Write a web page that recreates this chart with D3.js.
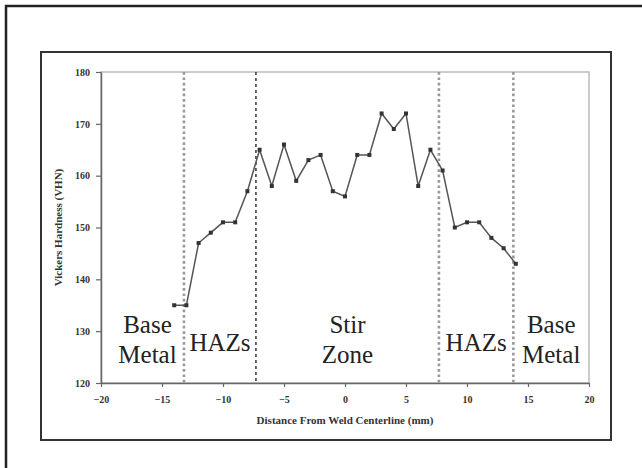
<!DOCTYPE html>
<html>
<head>
<meta charset="utf-8">
<script src="https://cdn.jsdelivr.net/npm/d3@7"></script>
<style>
  html, body { margin: 0; padding: 0; background: #fff; }
  svg { display: block; }
  .serif { font-family: "Liberation Serif", "DejaVu Serif", "Times New Roman", Times, serif; }
</style>
</head>
<body>
<div id="chart"></div>
<script>
// Hardness profile across the weld: distance (mm) vs Vickers hardness.

const distances = [-14, -13, -12, -11, -10, -9, -8, -7, -6, -5, -4, -3, -2, -1, 0,
                   1, 2, 3, 4, 5, 6, 7, 8, 9, 10, 11, 12, 13, 14];
const hardness = [135, 135, 147, 149, 151, 151, 157, 165, 158, 166, 159, 163, 164, 157, 156,
                  164, 164, 172, 169, 172, 158, 165, 161, 150, 151, 151, 148, 146, 143];

const xTicks = [-20, -15, -10, -5, 0, 5, 10, 15, 20];
const yTicks = [120, 130, 140, 150, 160, 170, 180];

// zone boundaries and the line style drawn at each
const boundaries = [-13.2, -7.3, 7.7, 13.8];
const boundaryKinds = ["dotted", "dashed", "dotted", "dotted"];

const zoneNames = [["Base", "Metal"], ["HAZs"], ["Stir", "Zone"], ["HAZs"], ["Base", "Metal"]];

const xTitle = "Distance From Weld Centerline (mm)";
const yTitle = "Vickers Hardness (VHN)";

const W = 642, H = 468;
const plot = { left: 101, right: 589, top: 72, bottom: 383 };

const svg = d3.select("#chart").append("svg")
    .attr("width", W).attr("height", H);

svg.append("rect").attr("width", W).attr("height", H).attr("fill", "#fff");

// outer frame (left + top edges only)
svg.append("path")
    .attr("d", "M6,468V6H642")
    .attr("fill", "none")
    .attr("stroke", "#222")
    .attr("stroke-width", 2.5);

// inner frame
svg.append("rect")
    .attr("x", 41).attr("y", 52)
    .attr("width", 570).attr("height", 388)
    .attr("fill", "none")
    .attr("stroke", "#333")
    .attr("stroke-width", 2);

const x = d3.scaleLinear().domain([-20, 20]).range([plot.left, plot.right]);
const y = d3.scaleLinear().domain([120, 180]).range([plot.bottom, plot.top]);

// light plot box
svg.append("rect")
    .attr("x", plot.left).attr("y", plot.top)
    .attr("width", plot.right - plot.left)
    .attr("height", plot.bottom - plot.top)
    .attr("fill", "none")
    .attr("stroke", "#bbb")
    .attr("stroke-width", 1.5);

// axes
const xAxis = svg.append("g")
    .attr("transform", `translate(0,${plot.bottom})`)
    .call(d3.axisBottom(x).tickValues(xTicks).tickSize(4).tickPadding(9).tickSizeOuter(0));

const yAxis = svg.append("g")
    .attr("transform", `translate(${plot.left},0)`)
    .call(d3.axisLeft(y).tickValues(yTicks).tickSize(5).tickPadding(6).tickSizeOuter(0));

[xAxis, yAxis].forEach(g => {
    g.attr("font-family", null);
    g.select(".domain").attr("stroke", "#666").attr("stroke-width", 1.5);
    g.selectAll(".tick line").attr("stroke", "#666").attr("stroke-width", 1.2);
    g.selectAll(".tick text")
        .attr("class", "serif")
        .attr("fill", "#333")
        .style("font-weight", "bold")
        .style("font-size", "10px");
});

// axis titles
svg.append("text")
    .attr("class", "serif")
    .attr("x", (plot.left + plot.right) / 2)
    .attr("y", 424)
    .attr("text-anchor", "middle")
    .attr("fill", "#333")
    .style("font-weight", "bold")
    .style("font-size", "11px")
    .text(xTitle);

svg.append("text")
    .attr("class", "serif")
    .attr("transform", `translate(62,${(plot.top + plot.bottom) / 2}) rotate(-90)`)
    .attr("text-anchor", "middle")
    .attr("fill", "#333")
    .style("font-weight", "bold")
    .style("font-size", "11px")
    .text(yTitle);

// zone boundary lines
svg.append("g").selectAll("line")
    .data(boundaries)
    .join("line")
    .attr("x1", d => x(d)).attr("x2", d => x(d))
    .attr("y1", plot.top).attr("y2", plot.bottom)
    .attr("stroke", (d, i) => boundaryKinds[i] === "dashed" ? "#333" : "#999")
    .attr("stroke-width", (d, i) => boundaryKinds[i] === "dashed" ? 1.5 : 2.6)
    .attr("stroke-dasharray", (d, i) => boundaryKinds[i] === "dashed" ? "3,3" : "2.7,2.7");

// zone labels centred in each zone
const edges = [x.domain()[0], ...boundaries, x.domain()[1]];
const zoneLabels = svg.append("g")
    .attr("class", "serif")
    .style("font-size", "25px")
    .attr("fill", "#222")
    .attr("text-anchor", "middle");

zoneNames.forEach((lines, i) => {
    let cx = x((edges[i] + edges[i + 1]) / 2);
    if (i === 0) cx += 5; // left label sits a little right of the zone middle
    const t = zoneLabels.append("text");
    if (lines.length === 1) {
        t.append("tspan").attr("x", cx).attr("y", plot.bottom - 32).text(lines[0]);
    } else {
        lines.forEach((s, j) => {
            t.append("tspan").attr("x", cx).attr("y", plot.bottom - 50 + j * 30).text(s);
        });
    }
});

// hardness profile
const pts = distances.map((d, i) => [d, hardness[i]]);

svg.append("path")
    .datum(pts)
    .attr("fill", "none")
    .attr("stroke", "#555")
    .attr("stroke-width", 1.5)
    .attr("d", d3.line().x(d => x(d[0])).y(d => y(d[1])));

svg.append("g").selectAll("rect")
    .data(pts)
    .join("rect")
    .attr("x", d => x(d[0]) - 2)
    .attr("y", d => y(d[1]) - 2)
    .attr("width", 4).attr("height", 4)
    .attr("fill", "#333");
</script>
</body>
</html>
